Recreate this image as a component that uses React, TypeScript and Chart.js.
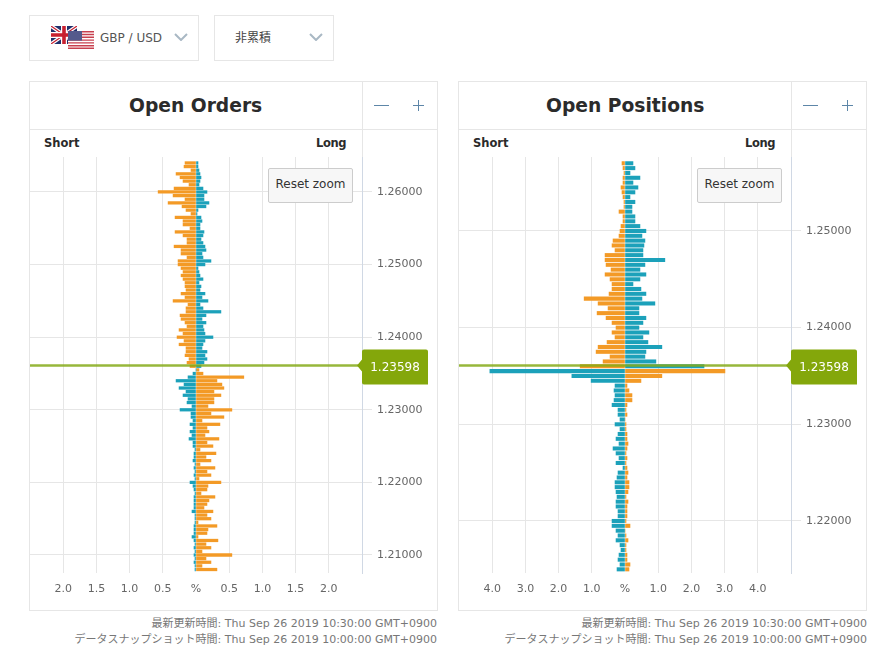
import React, { useEffect, useRef } from "react";
import { Chart, registerables } from "chart.js";

Chart.register(...registerables);

const CURRENT_PRICE = 1.23598;

const ordersPrices = [
  1.264, 1.2635, 1.263, 1.2625, 1.262, 1.2615, 1.261, 1.2605, 1.26, 1.2595, 1.259, 1.2585, 1.258, 1.2575, 1.257, 1.2565, 1.256, 1.2555, 1.255,
  1.2545, 1.254, 1.2535, 1.253, 1.2525, 1.252, 1.2515, 1.251, 1.2505, 1.25, 1.2495, 1.249, 1.2485, 1.248, 1.2475, 1.247, 1.2465, 1.246, 1.2455,
  1.245, 1.2445, 1.244, 1.2435, 1.243, 1.2425, 1.242, 1.2415, 1.241, 1.2405, 1.24, 1.2395, 1.239, 1.2385, 1.238, 1.2375, 1.237, 1.2365, 1.236,
  1.2355, 1.235, 1.2345, 1.234, 1.2335, 1.233, 1.2325, 1.232, 1.2315, 1.231, 1.2305, 1.23, 1.2295, 1.229, 1.2285, 1.228, 1.2275, 1.227, 1.2265,
  1.226, 1.2255, 1.225, 1.2245, 1.224, 1.2235, 1.223, 1.2225, 1.222, 1.2215, 1.221, 1.2205, 1.22, 1.2195, 1.219, 1.2185, 1.218, 1.2175, 1.217,
  1.2165, 1.216, 1.2155, 1.215, 1.2145, 1.214, 1.2135, 1.213, 1.2125, 1.212, 1.2115, 1.211, 1.2105, 1.21, 1.2095, 1.209, 1.2085, 1.208,
];
const ordersShort = [
  0.165, 0.18, 0.075, 0.3, 0.24, 0.195, 0.105, 0.33, 0.57, 0.345, 0.165, 0.42, 0.21, 0.15, 0.075, 0.315, 0.195, 0.195, 0.09,
  0.315, 0.195, 0.135, 0.135, 0.33, 0.225, 0.225, 0.135, 0.27, 0.27, 0.225, 0.195, 0.225, 0.195, 0.165, 0.165, 0.15, 0.225, 0.165,
  0.345, 0.12, 0.15, 0.15, 0.24, 0.225, 0.165, 0.135, 0.255, 0.195, 0.285, 0.18, 0.255, 0.15, 0.15, 0.165, 0.105, 0.135, 0.09,
  0, 0.045, 0.12, 0.3, 0.18, 0.255, 0.15, 0.195, 0.12, 0.135, 0.06, 0.24, 0.075, 0.075, 0.045, 0.09, 0.045, 0.09, 0.06,
  0.105, 0.045, 0.045, 0.015, 0.03, 0.03, 0.045, 0.015, 0.03, 0.015, 0.03, 0.015, 0.09, 0.045, 0.03, 0.015, 0.03, 0.03, 0.03,
  0.03, 0.06, 0.015, 0.015, 0.015, 0.03, 0.03, 0.03, 0.06, 0.03, 0.015, 0.03, 0.015, 0.03, 0.015, 0.03, 0.015, 0.015,
];
const ordersLong = [
  0.03, 0.03, 0.045, 0.06, 0.075, 0.06, 0.045, 0.105, 0.165, 0.12, 0.12, 0.195, 0.15, 0.03, 0.015, 0.075, 0.09, 0.06, 0.06,
  0.12, 0.105, 0.075, 0.105, 0.135, 0.15, 0.09, 0.105, 0.225, 0.135, 0.03, 0.045, 0.06, 0.105, 0.045, 0.075, 0.06, 0.135, 0.09,
  0.18, 0.06, 0.105, 0.375, 0.15, 0.09, 0.15, 0.105, 0.12, 0.135, 0.255, 0.135, 0.105, 0.09, 0.165, 0.135, 0.165, 0.12, 0.075,
  0.045, 0.105, 0.72, 0.315, 0.39, 0.42, 0.27, 0.375, 0.27, 0.27, 0.18, 0.54, 0.225, 0.42, 0.09, 0.36, 0.165, 0.195, 0.135,
  0.345, 0.165, 0.255, 0.06, 0.3, 0.15, 0.225, 0.06, 0.285, 0.165, 0.225, 0.045, 0.375, 0.18, 0.165, 0.075, 0.285, 0.195, 0.165,
  0.12, 0.255, 0.165, 0.225, 0.03, 0.315, 0.18, 0.165, 0.03, 0.33, 0.15, 0.225, 0.09, 0.54, 0.15, 0.225, 0.09, 0.315,
];

const positionsPrices = [
  1.257, 1.2565, 1.256, 1.2555, 1.255, 1.2545, 1.254, 1.2535, 1.253, 1.2525, 1.252, 1.2515, 1.251, 1.2505, 1.25, 1.2495, 1.249, 1.2485, 1.248,
  1.2475, 1.247, 1.2465, 1.246, 1.2455, 1.245, 1.2445, 1.244, 1.2435, 1.243, 1.2425, 1.242, 1.2415, 1.241, 1.2405, 1.24, 1.2395, 1.239, 1.2385,
  1.238, 1.2375, 1.237, 1.2365, 1.236, 1.2355, 1.235, 1.2345, 1.234, 1.2335, 1.233, 1.2325, 1.232, 1.2315, 1.231, 1.2305, 1.23, 1.2295, 1.229,
  1.2285, 1.228, 1.2275, 1.227, 1.2265, 1.226, 1.2255, 1.225, 1.2245, 1.224, 1.2235, 1.223, 1.2225, 1.222, 1.2215, 1.221, 1.2205, 1.22, 1.2195,
  1.219, 1.2185, 1.218, 1.2175, 1.217, 1.2165, 1.216, 1.2155, 1.215,
];
const positionsShort = [
  0.09, 0.06, 0.03, 0.06, 0.06, 0.12, 0.09, 0.06, 0.03, 0.03, 0.18, 0.06, 0.06, 0.12, 0.15, 0.18, 0.36, 0.39, 0.3,
  0.6, 0.6, 0.57, 0.42, 0.6, 0.45, 0.39, 0.39, 0.48, 1.23, 0.81, 0.51, 0.84, 0.57, 0.39, 0.27, 0.39, 0.3, 0.54,
  0.81, 0.87, 0.45, 0.66, 1.35, 4.07, 1.6, 1.02, 0.3, 0.33, 0.3, 0.33, 0.39, 0.21, 0.21, 0.15, 0.3, 0.15, 0.21,
  0.27, 0.18, 0.36, 0.27, 0.18, 0.27, 0.06, 0.21, 0.24, 0.3, 0.3, 0.27, 0.24, 0.27, 0.27, 0.21, 0.21, 0.39, 0.39,
  0.27, 0.21, 0.27, 0.15, 0.12, 0.18, 0.21, 0.15, 0.24,
];
const positionsLong = [
  0.24, 0.3, 0.15, 0.45, 0.24, 0.39, 0.3, 0.15, 0.3, 0.21, 0.21, 0.3, 0.3, 0.45, 0.63, 0.51, 0.6, 0.57, 0.54,
  0.54, 1.2, 0.6, 0.45, 0.63, 0.45, 0.24, 0.48, 0.63, 0.51, 0.9, 0.42, 0.42, 0.63, 0.54, 0.42, 0.72, 0.54, 0.69,
  1.11, 0.63, 0.6, 0.93, 2.38, 3.01, 1.11, 0.48, 0.06, 0.12, 0.21, 0.21, 0.06, 0.03, 0.06, 0, 0.03, 0.03, 0.06,
  0.06, 0.09, 0.06, 0.03, 0.06, 0.03, 0.06, 0.09, 0.06, 0.12, 0.12, 0.09, 0.03, 0.09, 0.06, 0.06, 0.06, 0.03, 0.15,
  0, 0.03, 0.09, 0.03, 0.03, 0.06, 0.06, 0.15, 0.12,
];

const FONT = "'DejaVu Sans', 'Noto Sans CJK JP', sans-serif";
const ORANGE = "rgb(243,154,38)";
const TEAL = "rgb(28,161,186)";
const BORDER = "#e6e6e6";
const GREEN = "#84a70b";

const pricePlugin = {
  id: "pricePlugin",
  afterDatasetsDraw(chart: any) {
    const { ctx, chartArea, scales } = chart;
    const y = scales.y.getPixelForValue(CURRENT_PRICE) - 1;
    const right = chartArea.right;
    ctx.save();
    ctx.strokeStyle = "rgba(133,170,25,0.85)";
    ctx.lineWidth = 2.5;
    ctx.beginPath();
    ctx.moveTo(chartArea.left, y);
    ctx.lineTo(right - 2, y);
    ctx.stroke();
    ctx.fillStyle = GREEN;
    const top = y - 16;
    const bottom = y + 19;
    ctx.beginPath();
    ctx.moveTo(right - 5, y);
    ctx.lineTo(right, y - 6);
    ctx.lineTo(right, top + 2);
    ctx.arcTo(right, top, right + 2, top, 2);
    ctx.lineTo(right + 64, top);
    ctx.arcTo(right + 66, top, right + 66, top + 2, 2);
    ctx.lineTo(right + 66, bottom);
    ctx.lineTo(right + 2, bottom);
    ctx.arcTo(right, bottom, right, bottom - 2, 2);
    ctx.lineTo(right, y + 6);
    ctx.closePath();
    ctx.fill();
    ctx.fillStyle = "#ffffff";
    ctx.font = `12px ${FONT}`;
    ctx.textAlign = "center";
    ctx.textBaseline = "middle";
    ctx.fillText(CURRENT_PRICE.toFixed(5), right + 33, y + 2);
    ctx.restore();
  },
};

type PanelChartProps = {
  prices: number[];
  short: number[];
  long: number[];
  maxPct: number;
  pctStep: number;
  pctDigits: number;
  yMin: number;
  yMax: number;
  bar: number;
  left: number;
};

function PanelChart(p: PanelChartProps) {
  const ref = useRef<HTMLCanvasElement>(null);
  useEffect(() => {
    const isAbove = (v: number) => v >= CURRENT_PRICE;
    const chart = new Chart(ref.current as HTMLCanvasElement, {
      type: "bar",
      data: {
        datasets: [
          {
            label: "Short",
            data: p.prices.map((y, i) => ({ x: -p.short[i], y })),
            backgroundColor: p.prices.map((y) => (isAbove(y) ? ORANGE : TEAL)),
            barThickness: p.bar,
            borderWidth: 0,
          },
          {
            label: "Long",
            data: p.prices.map((y, i) => ({ x: p.long[i], y })),
            backgroundColor: p.prices.map((y) => (isAbove(y) ? TEAL : ORANGE)),
            barThickness: p.bar,
            borderWidth: 0,
          },
        ],
      } as any,
      options: {
        indexAxis: "y",
        responsive: false,
        animation: false,
        layout: { padding: { top: 17, left: 0, right: 0, bottom: 0 } },
        plugins: { legend: { display: false }, tooltip: { enabled: false } },
        datasets: { bar: { grouped: false } },
        scales: {
          x: {
            type: "linear",
            min: -p.maxPct,
            max: p.maxPct,
            offset: false,
            afterFit(s: any) {
              s.height = 37;
            },
            border: { display: false },
            grid: {
              drawTicks: true,
              tickLength: 10,
              tickColor: "rgba(0,0,0,0)",
              offset: false,
              lineWidth: 1,
              color: (c: any) =>
                c.tick && (c.tick.value === 0 || Math.abs(c.tick.value) >= p.maxPct) ? "rgba(0,0,0,0)" : BORDER,
            },
            ticks: {
              stepSize: p.pctStep,
              autoSkip: false,
              maxRotation: 0,
              padding: 0,
              color: "#666666",
              font: { family: FONT, size: 11 },
              callback: (v: any) => {
                const n = Number(v);
                if (n === 0) return "%";
                if (Math.abs(n) >= p.maxPct) return "";
                return Math.abs(n).toFixed(p.pctDigits);
              },
            },
          },
          y: {
            type: "linear",
            position: "right",
            min: p.yMin,
            max: p.yMax,
            offset: false,
            afterFit(s: any) {
              s.width = 75;
            },
            border: { display: true, color: "#d0d8e4" },
            grid: { color: BORDER, tickLength: 10, tickColor: BORDER, offset: false },
            ticks: {
              stepSize: 0.01,
              includeBounds: false,
              padding: 5,
              color: "#666666",
              font: { family: FONT, size: 11 },
              callback: (v: any) => Number(v).toFixed(5),
            },
          },
        },
      } as any,
      plugins: [pricePlugin],
    });
    return () => chart.destroy();
  }, []);
  return (
    <canvas
      ref={ref}
      width={407}
      height={470}
      style={{ position: "absolute", left: p.left, top: 140, width: 407, height: 470, display: "block" }}
    />
  );
}

function Box(props: { l: number; t: number; w: number; h: number; style?: React.CSSProperties; children?: React.ReactNode }) {
  return (
    <div
      style={{
        position: "absolute",
        left: props.l,
        top: props.t,
        width: props.w,
        height: props.h,
        boxSizing: "border-box",
        ...props.style,
      }}
    >
      {props.children}
    </div>
  );
}

function Txt(props: { l?: number; r?: number; y: number; size: number; color: string; bold?: boolean; children: React.ReactNode; ls?: number }) {
  return (
    <div
      style={{
        position: "absolute",
        left: props.l,
        right: props.r,
        top: props.y - 12,
        height: 24,
        lineHeight: "24px",
        fontSize: props.size,
        color: props.color,
        fontWeight: props.bold ? 700 : 400,
        whiteSpace: "nowrap",
        letterSpacing: props.ls,
      }}
    >
      {props.children}
    </div>
  );
}

function Chevron({ x }: { x: number }) {
  return (
    <svg style={{ position: "absolute", left: x, top: 33, width: 14, height: 8 }} viewBox="0 0 14 8">
      <path d="M1 1 L7 7 L13 1" fill="none" stroke="#a9b8c4" strokeWidth="2" />
    </svg>
  );
}

function Panel(props: { x: number; title: string; titleLeft: number; children: React.ReactNode }) {
  const x = props.x;
  return (
    <>
      <Box l={x} t={81} w={409} h={530} style={{ border: `1px solid ${BORDER}` }} />
      <Box l={x} t={129} w={409} h={1} style={{ background: BORDER }} />
      <Box l={x + 333} t={81} w={1} h={76} style={{ background: BORDER }} />
      <Txt l={x + props.titleLeft} y={106} size={18.7} color="#2b2b2b" bold>
        {props.title}
      </Txt>
      <Box l={x + 345} t={105} w={15} h={1} style={{ background: "#5d86a8" }} />
      <Box l={x + 384} t={105} w={11} h={1} style={{ background: "#5d86a8" }} />
      <Box l={x + 389} t={100} w={1} h={11} style={{ background: "#5d86a8" }} />
      <Txt l={x + 15} y={143} size={11.5} color="#2b2b2b" bold>
        Short
      </Txt>
      <Txt l={x + 287} y={143} size={11.5} color="#2b2b2b" bold ls={-0.4}>
        Long
      </Txt>
      {props.children}
      <Box
        l={x + 239}
        t={168}
        w={85}
        h={35}
        style={{
          background: "#f7f7f7",
          border: "1px solid #cccccc",
          borderRadius: 2,
          color: "#333333",
          fontSize: 12,
          lineHeight: "31px",
          textAlign: "center",
        }}
      >
        Reset zoom
      </Box>
    </>
  );
}

function Footer({ right }: { right: number }) {
  return (
    <>
      <Txt r={right} y={624} size={11} color="#777777">
        最新更新時間: Thu Sep 26 2019 10:30:00 GMT+0900
      </Txt>
      <Txt r={right} y={640} size={11} color="#777777">
        データスナップショット時間: Thu Sep 26 2019 10:00:00 GMT+0900
      </Txt>
    </>
  );
}

function Flags() {
  return (
    <>
      <svg style={{ position: "absolute", left: 51, top: 26, width: 26, height: 18 }} viewBox="0 0 26 18">
        <rect width="26" height="18" fill="#1f2f6b" />
        <path d="M0 0 L26 18 M26 0 L0 18" stroke="#ffffff" strokeWidth="3.6" />
        <path d="M0 0 L26 18 M26 0 L0 18" stroke="#c8202f" strokeWidth="1.2" />
        <path d="M13 0 V18 M0 9 H26" stroke="#ffffff" strokeWidth="6" />
        <path d="M13 0 V18 M0 9 H26" stroke="#c8202f" strokeWidth="3.6" />
      </svg>
      <svg style={{ position: "absolute", left: 68, top: 31, width: 26, height: 18 }} viewBox="0 0 26 18">
        <rect width="26" height="18" fill="#ffffff" />
        <path d="M0 0.7 H26 M0 3.5 H26 M0 6.3 H26 M0 9.1 H26 M0 11.9 H26 M0 14.7 H26 M0 17.3 H26" stroke="#c8404f" strokeWidth="1.4" />
        <rect width="14" height="9.6" fill="#545a8c" />
      </svg>
    </>
  );
}

export default function App() {
  return (
    <div
      style={{
        position: "absolute",
        left: 0,
        top: 0,
        width: 896,
        height: 659,
        overflow: "hidden",
        background: "#ffffff",
        fontFamily: FONT,
      }}
    >
      <Box l={29} t={15} w={170} h={46} style={{ border: `1px solid ${BORDER}` }} />
      <Flags />
      <Txt l={100} y={38} size={12} color="#555555">
        GBP / USD
      </Txt>
      <Chevron x={174} />
      <Box l={214} t={15} w={120} h={46} style={{ border: `1px solid ${BORDER}` }} />
      <Txt l={235} y={38} size={12} color="#444444">
        非累積
      </Txt>
      <Chevron x={309} />

      <Panel x={29} title="Open Orders" titleLeft={100}>
        <PanelChart
          prices={ordersPrices}
          short={ordersShort}
          long={ordersLong}
          maxPct={2.5}
          pctStep={0.5}
          pctDigits={1}
          yMin={1.20752}
          yMax={1.26482}
          bar={2.6}
          left={30}
        />
      </Panel>
      <Panel x={458} title="Open Positions" titleLeft={88}>
        <PanelChart
          prices={positionsPrices}
          short={positionsShort}
          long={positionsLong}
          maxPct={5}
          pctStep={1}
          pctDigits={1}
          yMin={1.21462}
          yMax={1.25765}
          bar={3.4}
          left={459}
        />
      </Panel>
      <Footer right={459} />
      <Footer right={29} />
    </div>
  );
}
